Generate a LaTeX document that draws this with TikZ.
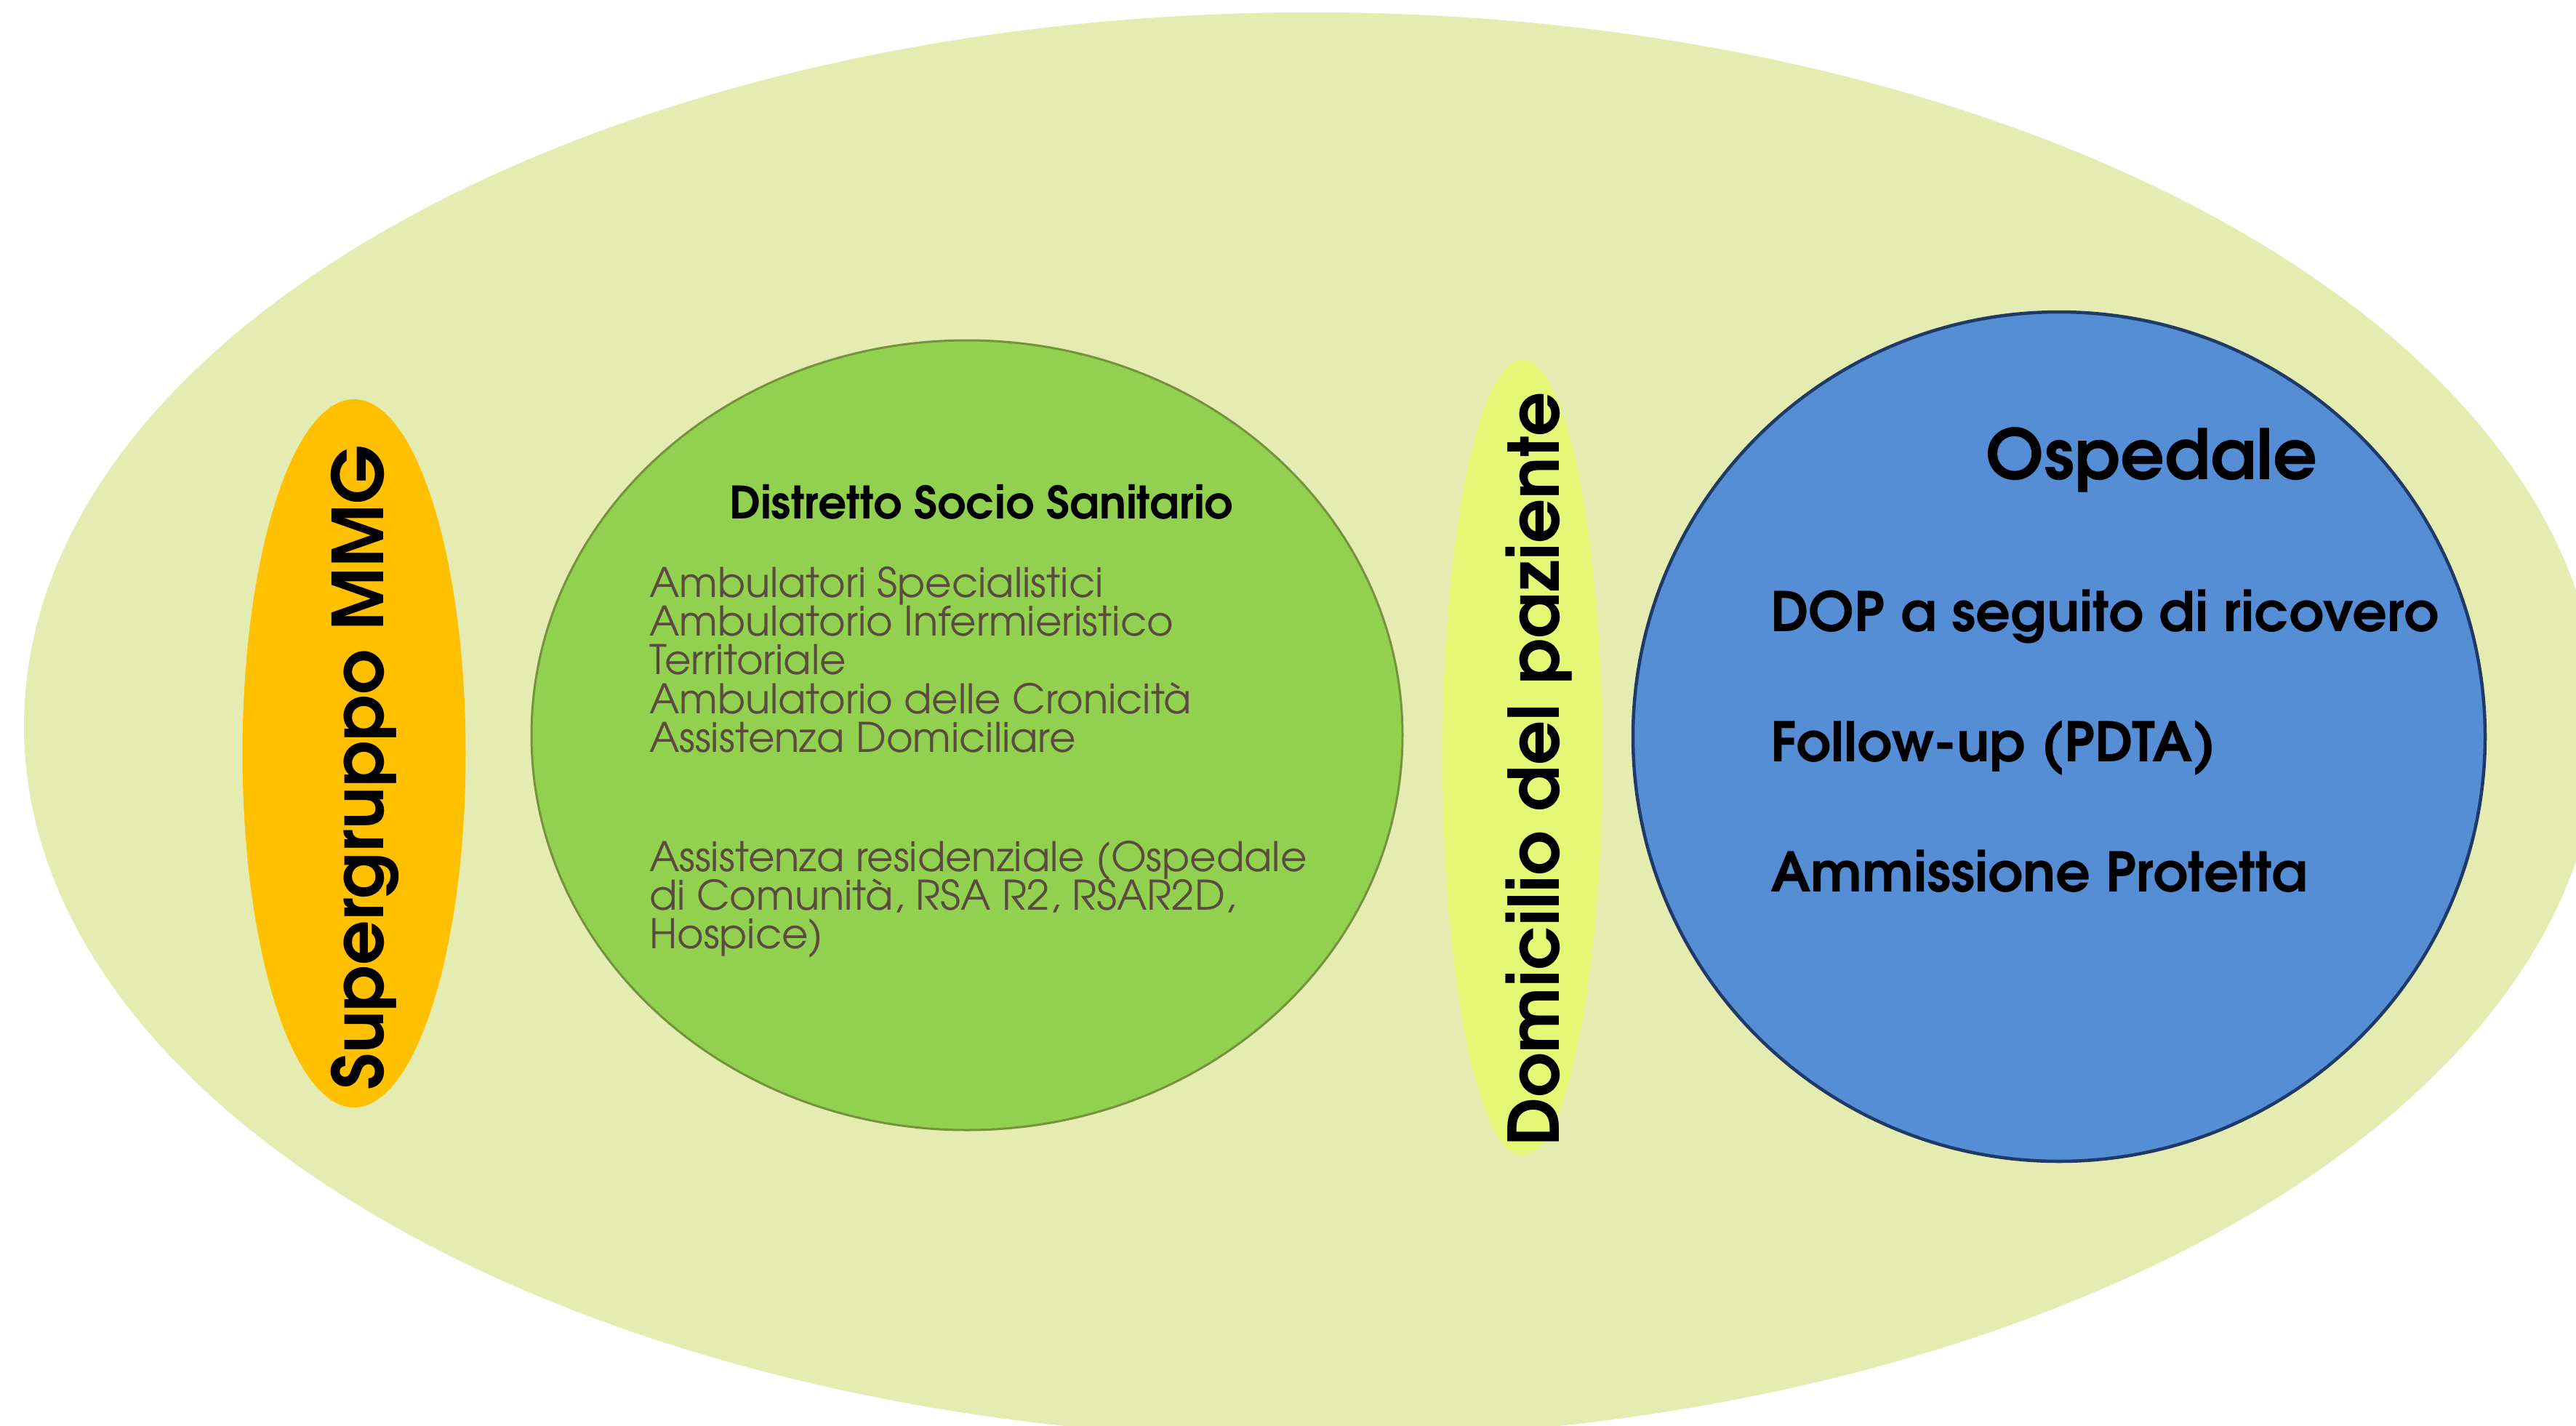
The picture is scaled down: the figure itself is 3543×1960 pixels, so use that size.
\documentclass[tikz,border=0pt]{standalone}
\usepackage{fontspec}
\setmainfont{TeX Gyre Adventor}
\usetikzlibrary{shapes.geometric}

\definecolor{campofill}{HTML}{E5ECB2}
\definecolor{mmgfill}{HTML}{FFC000}
\definecolor{dssfill}{HTML}{92D050}
\definecolor{dssline}{HTML}{76923C}
\definecolor{domfill}{HTML}{E4F876}
\definecolor{ospfill}{HTML}{558ED5}
\definecolor{ospline}{HTML}{1F3A66}
\definecolor{bodytext}{HTML}{5A4A40}

\begin{document}
\begin{tikzpicture}[x=0.1mm,y=-0.1mm,
  blob/.style={ellipse, inner sep=0pt, outer sep=0pt},
  lbl/.style={inner sep=0pt, outer sep=0pt, anchor=base west},
  dsstitle/.style={lbl, font=\bfseries\fontsize{17.5}{21}\selectfont},
  dssitem/.style={lbl, text=bodytext, font=\fontsize{15.95}{19}\selectfont},
  osptitle/.style={lbl, font=\bfseries\fontsize{27.2}{32}\selectfont},
  ospitem/.style={lbl, font=\bfseries\fontsize{21.4}{25}\selectfont},
  sidelabel/.style={inner sep=0pt, outer sep=0pt, anchor=base, rotate=90}]

\useasboundingbox (0,0) rectangle (3543,1960);
\clip (0,0) rectangle (3543,1960);

% outer field and the four areas inside it
\node[blob, fill=campofill, minimum width=354.2mm, minimum height=196.2mm] (campo) at (1804,998) {};
\node[blob, fill=mmgfill, minimum width=30.7mm, minimum height=97.4mm] (mmg) at (487,1036) {};
\node[blob, fill=dssfill, draw=dssline, line width=0.3mm, minimum width=119.8mm, minimum height=108.6mm] (dss) at (1330,1011) {};
\node[blob, fill=domfill, minimum width=22mm, minimum height=109.4mm] (dom) at (2094,1042) {};
\node[blob, fill=ospfill, draw=ospline, line width=0.45mm, minimum width=117.2mm, minimum height=116.8mm] (osp) at (2832,1013) {};

% vertical labels
\node[sidelabel, font=\bfseries\fontsize{27.4}{32}\selectfont] (mmglabel) at (527,1056) {Supergruppo MMG};
\node[sidelabel, font=\bfseries\fontsize{27.3}{32}\selectfont] (domlabel) at (2144,1058) {Domicilio del paziente};

% district services
\node[dsstitle] (dsstitle) at (1003,713) {Distretto Socio Sanitario};
\node[dssitem] (dss1) at (893,821) {Ambulatori Specialistici};
\node[dssitem] (dss2) at (893,874.4) {Ambulatorio Infermieristico};
\node[dssitem] (dss3) at (893,927.8) {Territoriale};
\node[dssitem] (dss4) at (893,981.2) {Ambulatorio delle Cronicità};
\node[dssitem] (dss5) at (893,1034.6) {Assistenza Domiciliare};
\node[dssitem] (dss6) at (893,1198) {Assistenza residenziale (Ospedale};
\node[dssitem] (dss7) at (893,1251.4) {di Comunità, RSA R2, RSAR2D,};
\node[dssitem] (dss8) at (893,1304.8) {Hospice)};

% hospital pathways
\node[osptitle] (osptitle) at (2731,659) {Ospedale};
\node[ospitem] (osp1) at (2435,868) {DOP a seguito di ricovero};
\node[ospitem] (osp2) at (2435,1047) {Follow-up (PDTA)};
\node[ospitem] (osp3) at (2435,1226) {Ammissione Protetta};

\end{tikzpicture}
\end{document}
